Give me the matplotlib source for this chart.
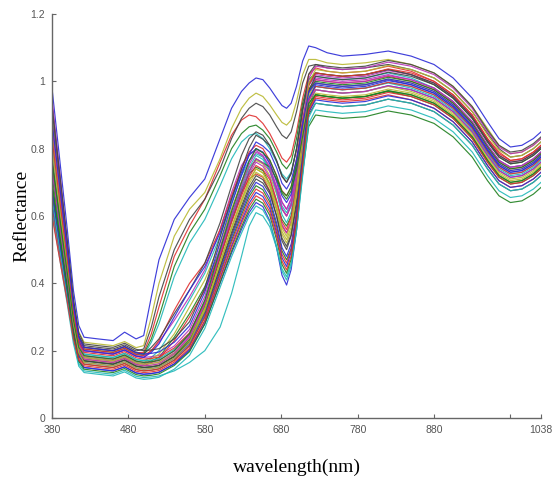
import matplotlib
matplotlib.use("Agg")
import matplotlib.pyplot as plt

# wavelength grid (nm, axis coordinates; the last tick is labelled 1038)
wavelength = [380, 390, 400, 408, 415, 422, 440, 460, 475, 490, 500, 510, 520, 540, 560,
              580, 600, 615, 628, 638, 647, 656, 665, 674, 681, 687, 693, 700, 708, 716,
              725, 740, 760, 790, 820, 850, 880, 905, 930, 950, 965, 980, 995, 1010, 1020]

# reflectance spectra, one list per sample
r01 = [0.98, 0.77, 0.56, 0.38, 0.275, 0.24, 0.235, 0.23, 0.255, 0.235, 0.245, 0.36, 0.47, 0.59, 0.655, 0.71, 0.83, 0.92, 0.97, 0.995, 1.01, 1.005, 0.98, 0.95, 0.928, 0.92, 0.935, 0.985, 1.06, 1.105, 1.10, 1.085, 1.075, 1.08, 1.09, 1.075, 1.05, 1.01, 0.95, 0.88, 0.83, 0.805, 0.81, 0.83, 0.85]
r02 = [0.68, 0.537, 0.394, 0.272, 0.20, 0.18, 0.175, 0.17, 0.182, 0.164, 0.16, 0.17, 0.18, 0.24, 0.31, 0.39, 0.50, 0.60, 0.68, 0.725, 0.745, 0.735, 0.695, 0.64, 0.59, 0.57, 0.60, 0.70, 0.83, 0.925, 0.96, 0.955, 0.95, 0.955, 0.97, 0.955, 0.93, 0.89, 0.83, 0.76, 0.715, 0.695, 0.70, 0.72, 0.74]
r03 = [0.80, 0.632, 0.464, 0.32, 0.236, 0.21, 0.205, 0.20, 0.212, 0.194, 0.195, 0.25, 0.33, 0.48, 0.57, 0.65, 0.76, 0.84, 0.885, 0.90, 0.895, 0.875, 0.845, 0.805, 0.772, 0.76, 0.78, 0.85, 0.95, 1.02, 1.04, 1.03, 1.025, 1.03, 1.045, 1.03, 1.0, 0.96, 0.90, 0.83, 0.79, 0.765, 0.77, 0.79, 0.81]
r04 = [0.72, 0.572, 0.423, 0.296, 0.222, 0.20, 0.195, 0.19, 0.202, 0.184, 0.185, 0.225, 0.28, 0.42, 0.52, 0.59, 0.69, 0.77, 0.82, 0.84, 0.845, 0.83, 0.80, 0.76, 0.725, 0.71, 0.73, 0.80, 0.915, 0.99, 1.015, 1.01, 1.005, 1.01, 1.025, 1.01, 0.98, 0.94, 0.88, 0.81, 0.765, 0.745, 0.75, 0.77, 0.79]
r05 = [0.78, 0.615, 0.45, 0.308, 0.225, 0.20, 0.195, 0.19, 0.202, 0.184, 0.18, 0.20, 0.225, 0.29, 0.36, 0.44, 0.56, 0.67, 0.75, 0.785, 0.795, 0.78, 0.74, 0.685, 0.64, 0.62, 0.65, 0.74, 0.875, 0.97, 1.01, 1.005, 1.0, 1.005, 1.02, 1.005, 0.98, 0.94, 0.88, 0.81, 0.765, 0.745, 0.75, 0.77, 0.79]
r06 = [0.90, 0.71, 0.515, 0.35, 0.256, 0.225, 0.22, 0.215, 0.227, 0.209, 0.215, 0.30, 0.40, 0.54, 0.62, 0.67, 0.77, 0.86, 0.92, 0.95, 0.965, 0.955, 0.93, 0.90, 0.878, 0.87, 0.885, 0.94, 1.02, 1.065, 1.065, 1.055, 1.05, 1.055, 1.065, 1.05, 1.025, 0.985, 0.925, 0.86, 0.81, 0.785, 0.79, 0.81, 0.83]
r07 = [0.85, 0.67, 0.49, 0.334, 0.244, 0.215, 0.21, 0.205, 0.217, 0.199, 0.205, 0.27, 0.36, 0.50, 0.59, 0.65, 0.74, 0.83, 0.89, 0.92, 0.935, 0.925, 0.90, 0.865, 0.84, 0.83, 0.85, 0.91, 0.995, 1.045, 1.05, 1.04, 1.035, 1.04, 1.05, 1.035, 1.01, 0.97, 0.91, 0.845, 0.80, 0.775, 0.78, 0.80, 0.82]
r08 = [0.63, 0.493, 0.356, 0.238, 0.169, 0.15, 0.145, 0.14, 0.152, 0.134, 0.13, 0.132, 0.136, 0.16, 0.20, 0.28, 0.40, 0.49, 0.56, 0.61, 0.64, 0.628, 0.586, 0.505, 0.424, 0.395, 0.441, 0.557, 0.743, 0.929, 0.975, 0.97, 0.965, 0.97, 0.987, 0.975, 0.95, 0.91, 0.85, 0.78, 0.735, 0.715, 0.72, 0.74, 0.76]
r09 = [0.76, 0.602, 0.444, 0.308, 0.229, 0.205, 0.20, 0.195, 0.207, 0.189, 0.19, 0.235, 0.30, 0.45, 0.55, 0.62, 0.72, 0.80, 0.845, 0.865, 0.87, 0.855, 0.83, 0.79, 0.755, 0.74, 0.76, 0.83, 0.935, 1.005, 1.025, 1.02, 1.015, 1.02, 1.035, 1.02, 0.99, 0.95, 0.89, 0.82, 0.775, 0.755, 0.76, 0.78, 0.80]
r10 = [0.88, 0.688, 0.496, 0.332, 0.236, 0.205, 0.20, 0.195, 0.207, 0.189, 0.185, 0.20, 0.23, 0.32, 0.40, 0.46, 0.56, 0.66, 0.74, 0.79, 0.81, 0.80, 0.765, 0.72, 0.675, 0.66, 0.685, 0.77, 0.89, 0.975, 1.005, 1.0, 0.995, 1.0, 1.015, 1.0, 0.975, 0.935, 0.875, 0.805, 0.76, 0.74, 0.745, 0.765, 0.785]
r11 = [0.70, 0.554, 0.409, 0.284, 0.211, 0.19, 0.185, 0.18, 0.192, 0.174, 0.17, 0.18, 0.20, 0.27, 0.35, 0.43, 0.54, 0.64, 0.72, 0.765, 0.785, 0.775, 0.735, 0.68, 0.63, 0.61, 0.64, 0.73, 0.86, 0.95, 0.985, 0.98, 0.975, 0.98, 0.995, 0.98, 0.955, 0.915, 0.855, 0.785, 0.74, 0.72, 0.725, 0.745, 0.765]
r12 = [0.86, 0.672, 0.485, 0.324, 0.23, 0.20, 0.195, 0.19, 0.202, 0.184, 0.18, 0.182, 0.186, 0.214, 0.263, 0.361, 0.507, 0.617, 0.702, 0.763, 0.80, 0.788, 0.76, 0.70, 0.642, 0.62, 0.652, 0.732, 0.86, 0.988, 1.02, 1.015, 1.01, 1.015, 1.032, 1.02, 0.995, 0.955, 0.895, 0.825, 0.78, 0.76, 0.765, 0.785, 0.805]
r13 = [0.75, 0.589, 0.428, 0.29, 0.21, 0.185, 0.18, 0.175, 0.187, 0.169, 0.165, 0.175, 0.19, 0.25, 0.33, 0.41, 0.52, 0.62, 0.70, 0.745, 0.765, 0.755, 0.72, 0.665, 0.62, 0.60, 0.63, 0.72, 0.85, 0.94, 0.975, 0.97, 0.965, 0.97, 0.985, 0.97, 0.945, 0.905, 0.845, 0.775, 0.73, 0.71, 0.715, 0.735, 0.755]
r14 = [0.92, 0.718, 0.517, 0.344, 0.243, 0.21, 0.205, 0.20, 0.212, 0.194, 0.19, 0.21, 0.235, 0.31, 0.38, 0.46, 0.58, 0.69, 0.78, 0.83, 0.85, 0.84, 0.81, 0.765, 0.72, 0.70, 0.725, 0.80, 0.92, 0.995, 1.025, 1.02, 1.015, 1.02, 1.035, 1.02, 0.995, 0.955, 0.895, 0.825, 0.78, 0.76, 0.765, 0.785, 0.805]
r15 = [0.82, 0.644, 0.467, 0.316, 0.228, 0.20, 0.195, 0.19, 0.202, 0.184, 0.18, 0.195, 0.22, 0.30, 0.38, 0.45, 0.55, 0.65, 0.73, 0.78, 0.80, 0.79, 0.755, 0.705, 0.66, 0.64, 0.665, 0.75, 0.875, 0.965, 0.995, 0.99, 0.985, 0.99, 1.005, 0.99, 0.965, 0.925, 0.865, 0.795, 0.75, 0.73, 0.735, 0.755, 0.775]
r16 = [0.72, 0.56, 0.401, 0.264, 0.184, 0.16, 0.155, 0.15, 0.162, 0.144, 0.14, 0.142, 0.146, 0.172, 0.215, 0.301, 0.431, 0.528, 0.604, 0.658, 0.69, 0.678, 0.642, 0.569, 0.496, 0.47, 0.504, 0.59, 0.728, 0.866, 0.90, 0.895, 0.89, 0.895, 0.912, 0.90, 0.875, 0.835, 0.775, 0.705, 0.66, 0.64, 0.645, 0.665, 0.685]
r17 = [0.66, 0.521, 0.383, 0.264, 0.195, 0.175, 0.17, 0.165, 0.177, 0.159, 0.155, 0.165, 0.175, 0.23, 0.30, 0.38, 0.49, 0.59, 0.67, 0.71, 0.725, 0.715, 0.675, 0.62, 0.57, 0.55, 0.58, 0.68, 0.815, 0.91, 0.95, 0.945, 0.94, 0.945, 0.96, 0.945, 0.92, 0.88, 0.82, 0.75, 0.705, 0.685, 0.69, 0.71, 0.73]
r18 = [0.79, 0.619, 0.448, 0.302, 0.217, 0.19, 0.185, 0.18, 0.192, 0.174, 0.17, 0.172, 0.176, 0.204, 0.252, 0.348, 0.492, 0.60, 0.684, 0.744, 0.78, 0.768, 0.736, 0.67, 0.604, 0.58, 0.612, 0.693, 0.823, 0.953, 0.985, 0.98, 0.975, 0.98, 0.997, 0.985, 0.96, 0.92, 0.86, 0.79, 0.745, 0.725, 0.73, 0.75, 0.77]
r19 = [0.74, 0.58, 0.421, 0.284, 0.204, 0.18, 0.175, 0.17, 0.182, 0.164, 0.16, 0.162, 0.166, 0.194, 0.241, 0.335, 0.477, 0.583, 0.666, 0.725, 0.76, 0.748, 0.714, 0.645, 0.575, 0.55, 0.586, 0.677, 0.823, 0.969, 1.005, 1.0, 0.995, 1.0, 1.017, 1.005, 0.98, 0.94, 0.88, 0.81, 0.765, 0.745, 0.75, 0.77, 0.79]
r20 = [0.70, 0.55, 0.40, 0.272, 0.197, 0.175, 0.17, 0.165, 0.177, 0.159, 0.155, 0.157, 0.161, 0.188, 0.234, 0.326, 0.464, 0.568, 0.648, 0.706, 0.74, 0.728, 0.692, 0.619, 0.546, 0.52, 0.556, 0.645, 0.787, 0.929, 0.965, 0.96, 0.955, 0.96, 0.977, 0.965, 0.94, 0.90, 0.84, 0.77, 0.725, 0.705, 0.71, 0.73, 0.75]
r21 = [0.66, 0.52, 0.38, 0.26, 0.19, 0.17, 0.165, 0.16, 0.172, 0.154, 0.15, 0.152, 0.156, 0.182, 0.227, 0.317, 0.451, 0.552, 0.63, 0.686, 0.72, 0.708, 0.672, 0.599, 0.526, 0.50, 0.541, 0.644, 0.809, 0.974, 1.015, 1.01, 1.005, 1.01, 1.027, 1.015, 0.99, 0.95, 0.89, 0.82, 0.775, 0.755, 0.76, 0.78, 0.80]
r22 = [0.64, 0.504, 0.368, 0.252, 0.184, 0.165, 0.16, 0.155, 0.167, 0.149, 0.145, 0.147, 0.151, 0.177, 0.22, 0.308, 0.438, 0.537, 0.613, 0.667, 0.70, 0.688, 0.652, 0.579, 0.506, 0.48, 0.517, 0.61, 0.759, 0.908, 0.945, 0.94, 0.935, 0.94, 0.957, 0.945, 0.92, 0.88, 0.82, 0.75, 0.705, 0.685, 0.69, 0.71, 0.73]
r23 = [0.69, 0.542, 0.393, 0.266, 0.192, 0.17, 0.165, 0.16, 0.172, 0.154, 0.15, 0.152, 0.156, 0.184, 0.233, 0.331, 0.477, 0.587, 0.672, 0.733, 0.77, 0.758, 0.746, 0.71, 0.673, 0.66, 0.687, 0.755, 0.864, 0.973, 1.0, 0.995, 0.99, 0.995, 1.012, 1.0, 0.975, 0.935, 0.875, 0.805, 0.76, 0.74, 0.745, 0.765, 0.785]
r24 = [0.62, 0.488, 0.357, 0.244, 0.178, 0.16, 0.155, 0.15, 0.162, 0.144, 0.14, 0.142, 0.146, 0.171, 0.214, 0.298, 0.426, 0.521, 0.595, 0.648, 0.68, 0.668, 0.632, 0.559, 0.486, 0.46, 0.502, 0.607, 0.775, 0.943, 0.985, 0.98, 0.975, 0.98, 0.997, 0.985, 0.96, 0.92, 0.86, 0.79, 0.745, 0.725, 0.73, 0.75, 0.77]
r25 = [0.65, 0.504, 0.359, 0.234, 0.161, 0.14, 0.135, 0.13, 0.142, 0.124, 0.12, 0.122, 0.125, 0.14, 0.165, 0.20, 0.27, 0.37, 0.48, 0.57, 0.61, 0.60, 0.568, 0.505, 0.443, 0.42, 0.46, 0.559, 0.717, 0.875, 0.915, 0.91, 0.905, 0.91, 0.927, 0.915, 0.89, 0.85, 0.79, 0.72, 0.675, 0.655, 0.66, 0.68, 0.70]
r26 = [0.95, 0.733, 0.516, 0.33, 0.222, 0.185, 0.18, 0.175, 0.187, 0.169, 0.165, 0.167, 0.171, 0.199, 0.246, 0.342, 0.484, 0.592, 0.675, 0.734, 0.77, 0.758, 0.733, 0.677, 0.62, 0.60, 0.636, 0.725, 0.867, 1.009, 1.045, 1.04, 1.035, 1.04, 1.057, 1.045, 1.02, 0.98, 0.92, 0.85, 0.805, 0.785, 0.79, 0.81, 0.83]
r27 = [0.84, 0.652, 0.465, 0.304, 0.21, 0.18, 0.175, 0.17, 0.182, 0.164, 0.16, 0.162, 0.166, 0.192, 0.237, 0.327, 0.461, 0.562, 0.64, 0.696, 0.73, 0.718, 0.686, 0.62, 0.554, 0.53, 0.567, 0.66, 0.809, 0.958, 0.995, 0.99, 0.985, 0.99, 1.007, 0.995, 0.97, 0.93, 0.87, 0.80, 0.755, 0.735, 0.74, 0.76, 0.78]
r28 = [0.77, 0.599, 0.428, 0.282, 0.197, 0.17, 0.165, 0.16, 0.172, 0.154, 0.15, 0.152, 0.156, 0.182, 0.226, 0.314, 0.446, 0.545, 0.622, 0.677, 0.71, 0.698, 0.666, 0.60, 0.534, 0.51, 0.544, 0.629, 0.765, 0.901, 0.935, 0.93, 0.925, 0.93, 0.947, 0.935, 0.91, 0.87, 0.81, 0.74, 0.695, 0.675, 0.68, 0.70, 0.72]
r29 = [0.68, 0.529, 0.378, 0.248, 0.172, 0.15, 0.145, 0.14, 0.152, 0.134, 0.13, 0.132, 0.136, 0.161, 0.204, 0.288, 0.416, 0.511, 0.585, 0.638, 0.67, 0.658, 0.622, 0.549, 0.476, 0.45, 0.493, 0.601, 0.774, 0.947, 0.99, 0.985, 0.98, 0.985, 1.002, 0.99, 0.965, 0.925, 0.865, 0.795, 0.75, 0.73, 0.735, 0.755, 0.775]
r30 = [0.70, 0.542, 0.384, 0.248, 0.169, 0.145, 0.14, 0.135, 0.147, 0.129, 0.125, 0.127, 0.131, 0.156, 0.197, 0.279, 0.403, 0.496, 0.568, 0.619, 0.65, 0.638, 0.602, 0.529, 0.456, 0.43, 0.472, 0.578, 0.748, 0.918, 0.96, 0.955, 0.95, 0.955, 0.972, 0.96, 0.935, 0.895, 0.835, 0.765, 0.72, 0.70, 0.705, 0.725, 0.745]
r31 = [0.83, 0.649, 0.469, 0.314, 0.224, 0.195, 0.19, 0.185, 0.197, 0.179, 0.175, 0.177, 0.181, 0.208, 0.253, 0.343, 0.479, 0.581, 0.66, 0.716, 0.75, 0.738, 0.708, 0.645, 0.583, 0.56, 0.597, 0.69, 0.839, 0.988, 1.025, 1.02, 1.015, 1.02, 1.037, 1.025, 1.0, 0.96, 0.90, 0.83, 0.785, 0.765, 0.77, 0.79, 0.81]
r32 = [0.61, 0.474, 0.338, 0.222, 0.154, 0.135, 0.13, 0.125, 0.137, 0.119, 0.115, 0.117, 0.121, 0.145, 0.186, 0.266, 0.388, 0.479, 0.549, 0.60, 0.63, 0.618, 0.582, 0.509, 0.436, 0.41, 0.452, 0.557, 0.725, 0.893, 0.935, 0.93, 0.925, 0.93, 0.947, 0.935, 0.91, 0.87, 0.81, 0.74, 0.695, 0.675, 0.68, 0.70, 0.72]
r33 = [0.74, 0.579, 0.418, 0.28, 0.20, 0.175, 0.17, 0.165, 0.177, 0.159, 0.155, 0.157, 0.161, 0.19, 0.24, 0.34, 0.49, 0.603, 0.69, 0.753, 0.79, 0.778, 0.748, 0.685, 0.623, 0.60, 0.63, 0.705, 0.825, 0.945, 0.975, 0.97, 0.965, 0.97, 0.987, 0.975, 0.95, 0.91, 0.85, 0.78, 0.735, 0.715, 0.72, 0.74, 0.76]
r34 = [0.80, 0.619, 0.439, 0.284, 0.194, 0.165, 0.16, 0.155, 0.167, 0.149, 0.145, 0.147, 0.151, 0.178, 0.225, 0.319, 0.459, 0.565, 0.646, 0.705, 0.74, 0.728, 0.696, 0.63, 0.564, 0.54, 0.58, 0.679, 0.837, 0.995, 1.035, 1.03, 1.025, 1.03, 1.047, 1.035, 1.01, 0.97, 0.91, 0.84, 0.795, 0.775, 0.78, 0.80, 0.82]
r35 = [0.93, 0.728, 0.527, 0.354, 0.253, 0.22, 0.215, 0.21, 0.222, 0.204, 0.20, 0.202, 0.206, 0.235, 0.286, 0.386, 0.538, 0.651, 0.739, 0.802, 0.84, 0.828, 0.809, 0.763, 0.717, 0.70, 0.728, 0.798, 0.91, 1.022, 1.05, 1.045, 1.04, 1.045, 1.062, 1.05, 1.025, 0.985, 0.925, 0.855, 0.81, 0.79, 0.795, 0.815, 0.835]
r36 = [0.88, 0.69, 0.499, 0.336, 0.241, 0.21, 0.205, 0.20, 0.212, 0.194, 0.19, 0.192, 0.196, 0.225, 0.274, 0.374, 0.522, 0.634, 0.721, 0.783, 0.82, 0.808, 0.789, 0.743, 0.697, 0.68, 0.705, 0.768, 0.869, 0.97, 0.995, 0.99, 0.985, 0.99, 1.007, 0.995, 0.97, 0.93, 0.87, 0.80, 0.755, 0.735, 0.74, 0.76, 0.78]
r37 = [0.76, 0.596, 0.432, 0.292, 0.21, 0.185, 0.18, 0.175, 0.187, 0.169, 0.165, 0.167, 0.171, 0.20, 0.25, 0.35, 0.50, 0.613, 0.70, 0.763, 0.80, 0.788, 0.767, 0.718, 0.668, 0.65, 0.675, 0.737, 0.836, 0.935, 0.96, 0.955, 0.95, 0.955, 0.972, 0.96, 0.935, 0.895, 0.835, 0.765, 0.72, 0.70, 0.705, 0.725, 0.745]
r38 = [0.60, 0.473, 0.345, 0.236, 0.172, 0.155, 0.15, 0.145, 0.157, 0.139, 0.135, 0.137, 0.141, 0.166, 0.207, 0.289, 0.413, 0.506, 0.578, 0.629, 0.66, 0.648, 0.612, 0.539, 0.466, 0.44, 0.481, 0.584, 0.749, 0.914, 0.955, 0.95, 0.945, 0.95, 0.967, 0.955, 0.93, 0.89, 0.83, 0.76, 0.715, 0.695, 0.70, 0.72, 0.74]

spectra = [r01, r02, r03, r04, r05, r06, r07, r08, r09, r10, r11, r12, r13, r14, r15, r16, r17,
           r18, r19, r20, r21, r22, r23, r24, r25, r26, r27, r28, r29, r30, r31, r32, r33, r34,
           r35, r36, r37, r38]

xtick_pos = [380, 480, 580, 680, 780, 880, 980, 1020]
xtick_labels = ['380', '480', '580', '680', '780', '880', '', '1038']
ytick_pos = [0, 0.2, 0.4, 0.6, 0.8, 1.0, 1.2]
ytick_labels = ['0', '0.2', '0.4', '0.6', '0.8', '1', '1.2']

# old MATLAB colour order
line_colors = ['#2b2bd6', '#1f801f', '#e03030', '#20b8b8', '#b830b8', '#b8b830', '#444444']

fig = plt.figure(figsize=(5.52, 4.78), dpi=100)
ax = fig.add_axes([0.0942, 0.1255, 0.8859, 0.8452])

for i, s in enumerate(spectra):
    ax.plot(wavelength, s, color=line_colors[i % len(line_colors)], linewidth=0.85, alpha=0.9)

ax.set_xlim(380, 1020)
ax.set_ylim(0, 1.2)
ax.set_xticks(xtick_pos)
ax.set_xticklabels(xtick_labels)
ax.set_yticks(ytick_pos)
ax.set_yticklabels(ytick_labels)

for side in ['top', 'right']:
    ax.spines[side].set_visible(False)
for side in ['left', 'bottom']:
    ax.spines[side].set_color('#666666')
    ax.spines[side].set_linewidth(1.0)

ax.tick_params(direction='in', length=3, width=0.8, color='#666666',
               labelcolor='#555555', labelsize=7.5, pad=5)
for lab in ax.get_xticklabels() + ax.get_yticklabels():
    lab.set_family('Liberation Sans')

ax.set_xlabel('wavelength(nm)', family='Liberation Serif', fontsize=14)
ax.set_ylabel('Reflectance', family='Liberation Serif', fontsize=14)
ax.xaxis.set_label_coords(0.5, -0.1)
ax.yaxis.set_label_coords(-0.045, 0.5)

fig.savefig('out.png', dpi=100)
